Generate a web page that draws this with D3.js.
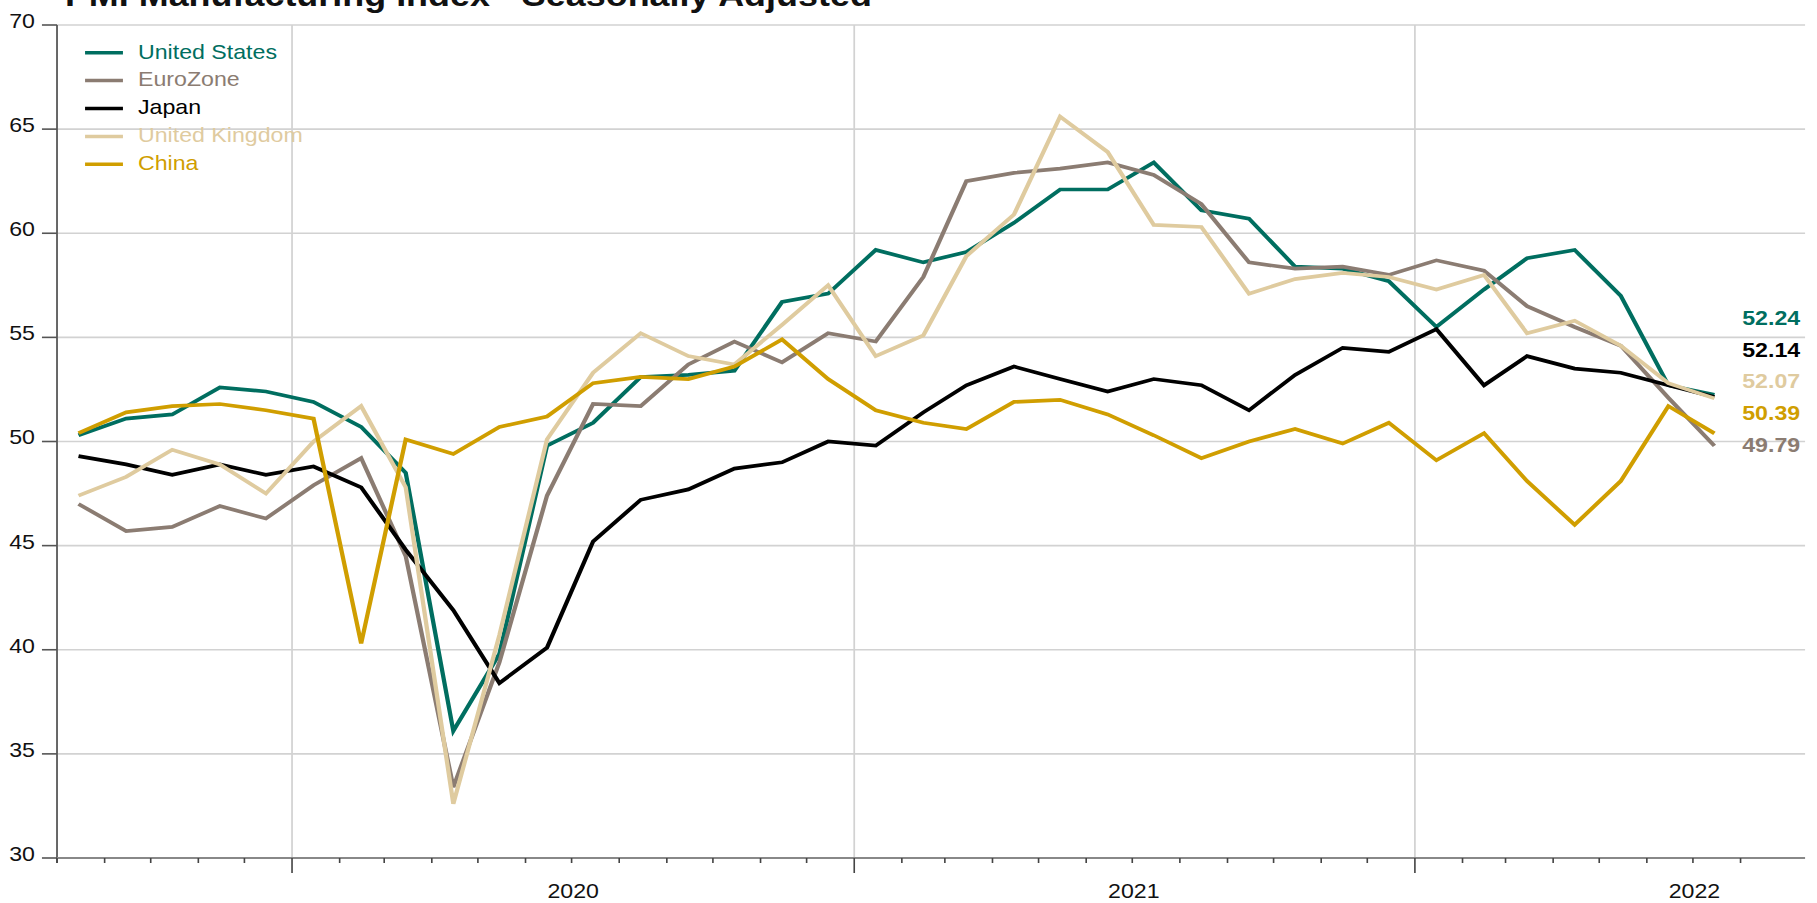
<!DOCTYPE html>
<html lang="en">
<head>
<meta charset="UTF-8">
<title>PMI Manufacturing Index - Seasonally Adjusted</title>
<style>
  body { margin: 0; background: #fff; overflow: hidden; }
  svg { display: block; font-family: "Liberation Sans", Arial, Helvetica, sans-serif; }
</style>
</head>
<body>
<svg id="chart"></svg>
<script src="https://d3js.org/d3.v7.min.js"></script>
<script>
// monthly readings, Aug 2019 .. Jul 2022
const months = ["2019-08","2019-09","2019-10","2019-11","2019-12",
  "2020-01","2020-02","2020-03","2020-04","2020-05","2020-06","2020-07","2020-08","2020-09","2020-10","2020-11","2020-12",
  "2021-01","2021-02","2021-03","2021-04","2021-05","2021-06","2021-07","2021-08","2021-09","2021-10","2021-11","2021-12",
  "2022-01","2022-02","2022-03","2022-04","2022-05","2022-06","2022-07"];

const usValues = [50.3,51.1,51.3,52.6,52.4,51.9,50.7,48.5,36.1,39.8,49.8,50.9,53.1,53.2,53.4,56.7,57.1,59.2,58.6,59.1,60.5,62.1,62.1,63.4,61.1,60.7,58.4,58.3,57.7,55.5,57.3,58.8,59.2,57.0,52.7,52.24];
const euroValues = [47.0,45.7,45.9,46.9,46.3,47.9,49.2,44.5,33.4,39.4,47.4,51.8,51.7,53.7,54.8,53.8,55.2,54.8,57.9,62.5,62.9,63.1,63.4,62.8,61.4,58.6,58.3,58.4,58.0,58.7,58.2,56.5,55.5,54.6,52.1,49.79];
const japanValues = [49.3,48.9,48.4,48.9,48.4,48.8,47.8,44.8,41.9,38.4,40.1,45.2,47.2,47.7,48.7,49.0,50.0,49.8,51.4,52.7,53.6,53.0,52.4,53.0,52.7,51.5,53.2,54.5,54.3,55.4,52.7,54.1,53.5,53.3,52.7,52.14];
const ukValues = [47.4,48.3,49.6,48.9,47.5,50.0,51.7,47.8,32.6,40.7,50.1,53.3,55.2,54.1,53.7,55.6,57.5,54.1,55.1,58.9,60.9,65.6,63.9,60.4,60.3,57.1,57.8,58.1,57.9,57.3,58.0,55.2,55.8,54.6,52.8,52.07];
const chinaValues = [50.4,51.4,51.7,51.8,51.5,51.1,40.3,50.1,49.4,50.7,51.2,52.8,53.1,53.0,53.6,54.9,53.0,51.5,50.9,50.6,51.9,52.0,51.3,50.3,49.2,50.0,50.6,49.9,50.9,49.1,50.4,48.1,46.0,48.1,51.7,50.39];

const seriesNames = ["United States", "EuroZone", "Japan", "United Kingdom", "China"];
const seriesColors = ["#006e60", "#8b7c72", "#000000", "#dfcb9f", "#d09e00"];
const yTicks = [30, 35, 40, 45, 50, 55, 60, 65, 70];
const yearLabels = ["2020", "2021", "2022"];

const seriesValues = [usValues, euroValues, japanValues, ukValues, chinaValues];

// the picture is drawn on a 1568 wide canvas and stretched to the window
const W = 1568, H = 903;
const parseMonth = d3.timeParse("%Y-%m");
const dates = months.map(m => d3.timeDay.offset(parseMonth(m), 14));

const svg = d3.select("#chart")
  .attr("width", 1817)
  .attr("height", 903)
  .attr("viewBox", `0 0 ${W} ${H}`)
  .attr("preserveAspectRatio", "none");

const plotLeft = 49.2, plotRight = 1557.7, plotTop = 25, plotBottom = 858;

const x = d3.scaleTime()
  .domain([new Date(2019, 7, 1), new Date(2022, 8, 12)])
  .range([plotLeft, plotRight]);
const y = d3.scaleLinear().domain([30, 70]).range([plotBottom, plotTop]);

// title (mostly cut off by the top edge, as in the original)
svg.append("text")
  .attr("x", 56).attr("y", 6)
  .attr("font-size", 31).attr("font-weight", "bold").attr("fill", "#111")
  .text("PMI Manufacturing Index - Seasonally Adjusted");

// grid
svg.append("g").selectAll("line")
  .data(yTicks)
  .join("line")
  .attr("x1", plotLeft).attr("x2", plotRight)
  .attr("y1", d => y(d)).attr("y2", d => y(d))
  .attr("stroke", "#d2d2d2").attr("stroke-width", 1.6);

const yearStarts = yearLabels.map(t => new Date(+t, 0, 1));
svg.append("g").selectAll("line")
  .data(yearStarts)
  .join("line")
  .attr("x1", d => x(d)).attr("x2", d => x(d))
  .attr("y1", plotTop).attr("y2", plotBottom)
  .attr("stroke", "#d2d2d2").attr("stroke-width", 1.5);

// y axis
const yAxis = svg.append("g");
yAxis.append("line")
  .attr("x1", plotLeft).attr("x2", plotLeft)
  .attr("y1", plotTop).attr("y2", plotBottom + 5)
  .attr("stroke", "#666").attr("stroke-width", 1.7);
yAxis.selectAll(".tk")
  .data(yTicks)
  .join("line")
  .attr("class", "tk")
  .attr("x1", plotLeft - 13).attr("x2", plotLeft)
  .attr("y1", d => y(d)).attr("y2", d => y(d))
  .attr("stroke", "#555").attr("stroke-width", 1.6);
yAxis.selectAll("text")
  .data(yTicks)
  .join("text")
  .attr("x", 30.2).attr("y", d => y(d) + 3)
  .attr("text-anchor", "end")
  .attr("font-size", 20).attr("fill", "#111")
  .text(d => d);

// x axis
const xAxis = svg.append("g");
xAxis.append("line")
  .attr("x1", plotLeft).attr("x2", plotRight)
  .attr("y1", plotBottom).attr("y2", plotBottom)
  .attr("stroke", "#888").attr("stroke-width", 2);
const monthTicks = d3.timeMonth.range(new Date(2019, 7, 1), new Date(2022, 8, 1));
xAxis.selectAll(".tk")
  .data(monthTicks)
  .join("line")
  .attr("class", "tk")
  .attr("x1", d => x(d)).attr("x2", d => x(d))
  .attr("y1", plotBottom).attr("y2", d => plotBottom + (d.getMonth() === 0 ? 15 : 5))
  .attr("stroke", "#444").attr("stroke-width", 1.4);
xAxis.selectAll("text")
  .data(yearLabels)
  .join("text")
  .attr("x", d => x(new Date(+d, 6, 2)))
  .attr("y", 898)
  .attr("text-anchor", "middle")
  .attr("font-size", 20).attr("fill", "#111")
  .text(d => d);

// lines
const series = seriesNames.map((name, i) => ({
  name, color: seriesColors[i],
  points: seriesValues[i].map((v, j) => ({ date: dates[j], value: v }))
}));

const line = d3.line().x(d => x(d.date)).y(d => y(d.value));
svg.append("g").selectAll("path")
  .data(series)
  .join("path")
  .attr("d", d => line(d.points))
  .attr("fill", "none")
  .attr("stroke", d => d.color)
  .attr("stroke-width", 3.7);

// legend
const legend = svg.append("g").selectAll("g")
  .data(series)
  .join("g")
  .attr("transform", (d, i) => `translate(0,${52.7 + i * 27.9})`);
legend.append("line")
  .attr("x1", 73.4).attr("x2", 106.1)
  .attr("stroke", d => d.color).attr("stroke-width", 3.5);
legend.append("text")
  .attr("x", 119.1).attr("y", 5.8)
  .attr("font-size", 20)
  .attr("fill", d => d.color)
  .text(d => d.name);

// end value labels, pushed apart from the lowest up
const ends = series.map(s => ({ s, last: s.points[s.points.length - 1] }))
  .sort((a, b) => a.last.value - b.last.value);
let prev = Infinity;
ends.forEach(e => {
  let ly = y(e.last.value) + 6;
  if (ly > prev - 31.75) ly = prev - 31.75;
  e.ly = ly;
  prev = ly;
});
svg.append("g").selectAll("text")
  .data(ends)
  .join("text")
  .attr("x", d => x(d.last.date) + 24)
  .attr("y", d => d.ly)
  .attr("font-size", 20).attr("font-weight", "bold")
  .attr("fill", d => d.s.color)
  .text(d => d.last.value.toFixed(2));
</script>
</body>
</html>
